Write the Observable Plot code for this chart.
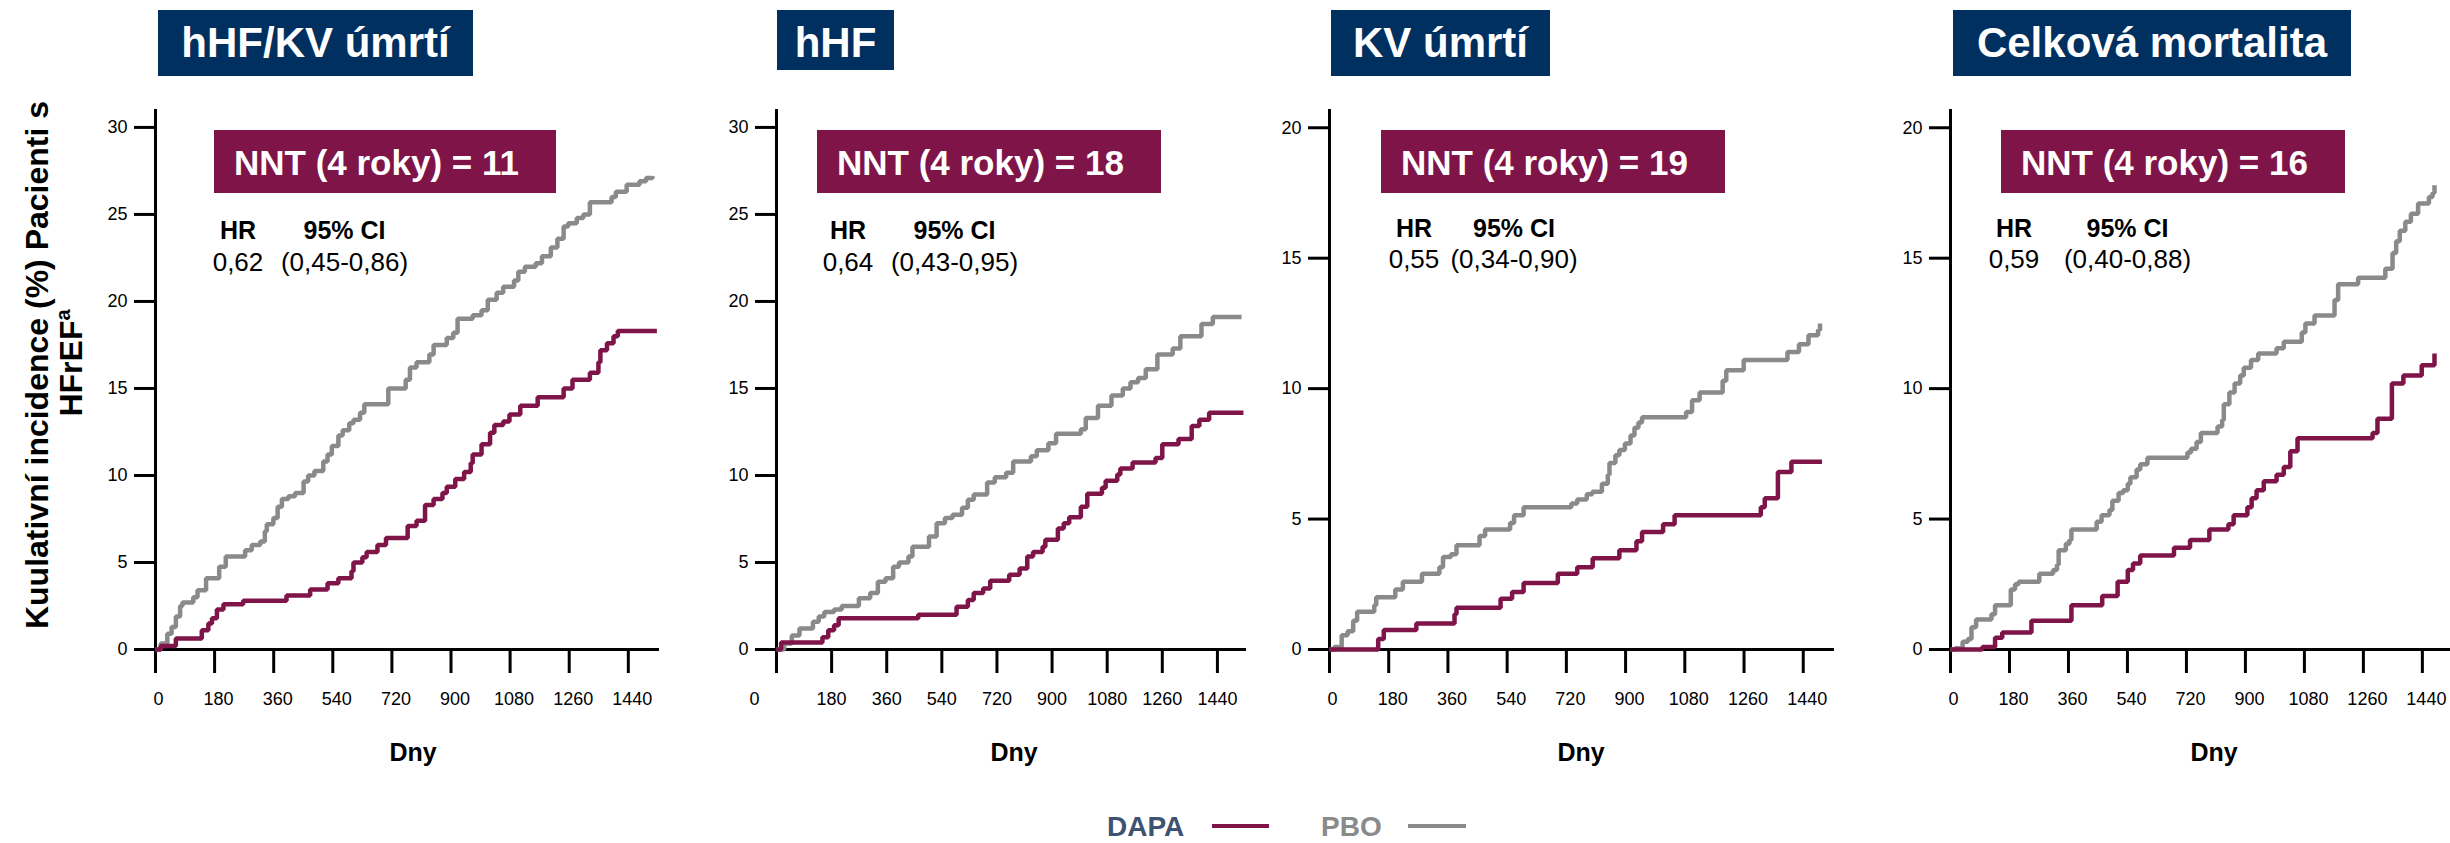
<!DOCTYPE html>
<html>
<head>
<meta charset="utf-8">
<script src="https://cdn.jsdelivr.net/npm/d3@7"></script>
<script src="https://cdn.jsdelivr.net/npm/@observablehq/plot@0.6"></script>
<style>
  html, body { margin: 0; padding: 0; background: #ffffff; overflow: hidden; }
  #root { position: relative; width: 2450px; height: 843px; overflow: hidden; font-family: "Liberation Sans", Arial, sans-serif; }
  #root svg { position: absolute; top: 0; }
</style>
</head>
<body>
<div id="root"></div>
<script>
// ---------- data ----------
const panelTitles = ["hHF/KV úmrtí", "hHF", "KV úmrtí", "Celková mortalita"];
const nntLabels = ["NNT (4 roky) = 11", "NNT (4 roky) = 18", "NNT (4 roky) = 19", "NNT (4 roky) = 16"];
const hrValues = ["0,62", "0,64", "0,55", "0,59"];
const ciValues = ["(0,45-0,86)", "(0,43-0,95)", "(0,34-0,90)", "(0,40-0,88)"];
const seriesNames = ["DAPA", "PBO"];
const xTicks = [0, 180, 360, 540, 720, 900, 1080, 1260, 1440];
const yTicks30 = [0, 5, 10, 15, 20, 25, 30];
const yTicks20 = [0, 5, 10, 15, 20];

const p1DapaDay = [0,16,62,141,161,172,187,207,267,399,471,524,557,597,603,630,643,676,702,768,795,821,847,874,887,913,940,960,966,993,1019,1032,1059,1078,1111,1164,1243,1270,1323,1349,1355,1375,1395,1408,1527];
const p1DapaPct = [0,0.2,0.63,1.1,1.5,1.8,2.3,2.6,2.8,3.1,3.45,3.8,4.1,4.5,5.0,5.3,5.6,6.0,6.4,7.1,7.4,8.3,8.65,9.0,9.35,9.8,10.2,10.7,11.2,11.8,12.45,12.9,13.1,13.5,14.0,14.5,15.0,15.5,15.9,16.5,17.2,17.6,18.0,18.3,18.3];
const p1PboDay = [0,16,36,49,62,75,82,115,128,154,194,214,273,293,319,333,339,359,372,385,405,425,451,465,484,511,524,537,557,570,590,603,623,636,709,762,775,795,834,847,887,907,920,966,993,1012,1039,1059,1092,1105,1125,1158,1177,1204,1224,1243,1257,1283,1303,1323,1389,1402,1435,1474,1494,1514];
const p1PboPct = [0,0.35,0.9,1.3,1.9,2.5,2.7,3.0,3.4,4.1,4.75,5.35,5.7,6.0,6.2,6.8,7.2,7.55,8.2,8.65,8.8,9.0,9.65,10.0,10.25,10.8,11.2,11.7,12.3,12.6,13.0,13.2,13.6,14.1,15.0,15.5,16.2,16.5,16.95,17.5,17.9,18.2,19.0,19.2,19.5,20.1,20.5,20.85,21.2,21.7,22.0,22.2,22.6,23.1,23.6,24.3,24.5,24.8,25.0,25.7,26.0,26.3,26.7,26.9,27.1,27.2];

const p2DapaDay = [0,15,150,169,188,203,463,588,625,644,675,698,760,794,819,838,869,878,919,938,956,994,1015,1063,1075,1113,1123,1163,1238,1260,1313,1356,1381,1413,1525];
const p2DapaPct = [0,0.4,0.7,1.1,1.4,1.8,2.0,2.45,2.85,3.25,3.5,3.95,4.3,4.65,5.35,5.6,5.9,6.3,6.95,7.25,7.6,8.2,8.95,9.3,9.7,10.05,10.4,10.75,11.0,11.8,12.1,12.85,13.2,13.6,13.6];
const p2PboDay = [0,25,50,75,119,138,156,188,213,269,306,331,356,381,400,431,444,498,523,550,575,606,625,644,688,713,750,773,831,850,888,913,994,1010,1050,1094,1131,1156,1181,1206,1244,1294,1319,1388,1425,1519];
const p2PboPct = [0,0.35,0.8,1.2,1.6,1.9,2.15,2.3,2.5,2.95,3.25,3.9,4.1,4.75,5.0,5.35,5.9,6.5,7.25,7.55,7.75,8.15,8.6,8.9,9.6,9.9,10.15,10.8,11.1,11.45,11.85,12.4,12.65,13.3,14.0,14.6,15.0,15.35,15.6,16.1,16.95,17.3,18.0,18.7,19.1,19.1];

const p3DapaDay = [0,148,165,264,380,386,520,555,590,694,753,800,881,933,950,1014,1049,1311,1323,1363,1404,1497];
const p3DapaPct = [0,0.4,0.75,1.0,1.35,1.6,1.95,2.2,2.55,2.9,3.15,3.5,3.8,4.15,4.5,4.8,5.15,5.45,5.8,6.8,7.2,7.2];
const p3PboDay = [0,14,37,55,72,84,136,142,200,223,281,334,345,369,386,456,473,549,561,590,735,753,782,799,828,846,851,869,881,898,915,927,939,950,1084,1102,1125,1195,1206,1259,1392,1427,1456,1485,1491];
const p3PboPct = [0,0.1,0.55,0.7,1.1,1.45,1.7,2.0,2.3,2.6,2.9,3.15,3.55,3.65,4.0,4.35,4.6,4.85,5.15,5.45,5.6,5.75,5.95,6.05,6.35,6.7,7.15,7.45,7.65,7.9,8.2,8.5,8.7,8.9,9.1,9.55,9.85,10.3,10.7,11.1,11.4,11.7,12.05,12.25,12.5];

const p4DapaDay = [0,97,136,158,247,369,463,510,541,557,579,682,731,790,848,864,906,919,934,956,995,1017,1037,1059,1288,1303,1347,1382,1438,1477];
const p4DapaPct = [0,0.1,0.45,0.65,1.1,1.7,2.05,2.6,3.05,3.3,3.6,3.9,4.2,4.6,4.8,5.15,5.45,5.8,6.1,6.45,6.7,7.0,7.6,8.1,8.3,8.85,10.2,10.5,10.9,11.35];
const p4PboDay = [0,14,37,53,64,78,125,136,184,197,208,271,313,325,330,352,363,369,446,461,485,494,513,527,541,549,568,579,601,723,734,751,764,815,829,834,851,867,884,895,917,939,995,1017,1072,1083,1111,1172,1183,1244,1327,1349,1360,1371,1388,1405,1427,1460,1471,1477];
const p4PboPct = [0,0.05,0.3,0.4,0.85,1.15,1.35,1.7,2.3,2.5,2.6,2.9,3.05,3.25,3.8,4.05,4.2,4.6,4.9,5.15,5.35,5.7,6.0,6.1,6.35,6.6,6.9,7.1,7.35,7.55,7.7,7.95,8.3,8.55,8.8,9.4,9.85,10.2,10.5,10.8,11.1,11.35,11.55,11.8,12.15,12.5,12.8,13.4,14.0,14.25,14.6,15.2,15.65,16.05,16.4,16.7,17.1,17.35,17.5,17.8];

// ---------- style / layout ----------
const FONT = '"Liberation Sans", Arial, sans-serif';
const MAROON = "#7f1449";
const GRAY = "#8a8a8a";
const NAVY = "#00305f";
const LEGEND_BLUE = "#3e5273";

const zip = (d, v) => d.map((day, i) => ({day, pct: v[i]}));
const series = [
  {dapa: zip(p1DapaDay, p1DapaPct), pbo: zip(p1PboDay, p1PboPct), yTicks: yTicks30, yMax: 31.03},
  {dapa: zip(p2DapaDay, p2DapaPct), pbo: zip(p2PboDay, p2PboPct), yTicks: yTicks30, yMax: 31.03},
  {dapa: zip(p3DapaDay, p3DapaPct), pbo: zip(p3PboDay, p3PboPct), yTicks: yTicks20, yMax: 20.7},
  {dapa: zip(p4DapaDay, p4DapaPct), pbo: zip(p4PboDay, p4PboPct), yTicks: yTicks20, yMax: 20.7}
];

const layout = [
  {left: 0,    width: 680, axis: 155,  end: 659,  dxLab: 4, dxZero: 3,
   title: [158, 10, 315, 66], nnt: [214, 130, 342, 63], hrC: 238, ciC: 344.5, hrY: 239, valY: 271, dny: 413},
  {left: 680,  width: 600, axis: 776,  end: 1246, dxLab: 0, dxZero: -22,
   title: [777, 10, 117, 60], nnt: [817, 130, 344, 63], hrC: 848, ciC: 954.5, hrY: 239, valY: 271, dny: 1014},
  {left: 1280, width: 600, axis: 1329, end: 1834, dxLab: 4, dxZero: 3,
   title: [1331, 10, 219, 66], nnt: [1381, 130, 344, 63], hrC: 1414, ciC: 1514, hrY: 237, valY: 268, dny: 1581},
  {left: 1880, width: 580, axis: 1950, end: 2453, dxLab: 4, dxZero: 3,
   title: [1953, 10, 398, 66], nnt: [2001, 130, 344, 63], hrC: 2014, ciC: 2127.5, hrY: 237, valY: 268, dny: 2214}
];

const root = document.getElementById("root");
const TOP = 109, BOTTOM = 649, H = 843;
const plainFmt = d => String(d);

series.forEach((s, i) => {
  const L = layout[i];
  const chart = Plot.plot({
    width: L.width,
    height: H,
    marginLeft: L.axis - L.left,
    marginRight: L.width - (L.end - L.left),
    marginTop: TOP,
    marginBottom: H - BOTTOM,
    x: {domain: [0, 1535], label: null},
    y: {domain: [0, s.yMax], label: null},
    style: {fontFamily: FONT, fontSize: "18px", color: "#000", background: "transparent", overflow: "visible"},
    marks: [
      Plot.axisY({ticks: s.yTicks, tickSize: 21, tickPadding: 7, strokeWidth: 3, fontSize: 18, tickFormat: plainFmt, label: null}),
      Plot.axisX({ticks: xTicks, tickSize: 24, tickFormat: () => "", strokeWidth: 3, label: null}),
      Plot.axisX({ticks: xTicks.filter(t => t > 0), tickSize: 0, tickPadding: 43, dx: L.dxLab, fontSize: 18, tickFormat: plainFmt, label: null}),
      Plot.axisX({ticks: [0], tickSize: 0, tickPadding: 43, dx: L.dxZero, fontSize: 18, tickFormat: plainFmt, label: null}),
      Plot.ruleX([0], {stroke: "#000", strokeWidth: 3}),
      Plot.ruleY([0], {stroke: "#000", strokeWidth: 3}),
      Plot.line(s.pbo, {x: "day", y: "pct", curve: "step-after", stroke: GRAY, strokeWidth: 4.5, strokeLinejoin: "miter", strokeLinecap: "butt"}),
      Plot.line(s.dapa, {x: "day", y: "pct", curve: "step-after", stroke: MAROON, strokeWidth: 4.5, strokeLinejoin: "miter", strokeLinecap: "butt"})
    ]
  });
  chart.style.left = L.left + "px";
  root.appendChild(chart);
});

// ---------- overlay: titles, NNT boxes, HR, axis titles, legend ----------
const ov = d3.select(root).append("svg")
  .attr("width", 2450).attr("height", H)
  .style("left", "0px").style("pointer-events", "none")
  .attr("font-family", FONT);

layout.forEach((L, i) => {
  const [tx, ty, tw, th] = L.title;
  ov.append("rect").attr("x", tx).attr("y", ty).attr("width", tw).attr("height", th).attr("fill", NAVY);
  ov.append("text").attr("x", tx + tw / 2).attr("y", 57).attr("text-anchor", "middle")
    .attr("font-size", 42).attr("font-weight", "bold").attr("fill", "#fff").text(panelTitles[i]);

  const [nx, ny, nw, nh] = L.nnt;
  ov.append("rect").attr("x", nx).attr("y", ny).attr("width", nw).attr("height", nh).attr("fill", MAROON);
  ov.append("text").attr("x", nx + 20).attr("y", 175)
    .attr("font-size", 35).attr("font-weight", "bold").attr("fill", "#fff").text(nntLabels[i]);

  ov.append("text").attr("x", L.hrC).attr("y", L.hrY).attr("text-anchor", "middle")
    .attr("font-size", 25).attr("font-weight", "bold").attr("fill", "#000").text("HR");
  ov.append("text").attr("x", L.ciC).attr("y", L.hrY).attr("text-anchor", "middle")
    .attr("font-size", 25).attr("font-weight", "bold").attr("fill", "#000").text("95% CI");
  ov.append("text").attr("x", L.hrC).attr("y", L.valY).attr("text-anchor", "middle")
    .attr("font-size", 26).attr("fill", "#000").text(hrValues[i]);
  ov.append("text").attr("x", L.ciC).attr("y", L.valY).attr("text-anchor", "middle")
    .attr("font-size", 26).attr("fill", "#000").text(ciValues[i]);

  ov.append("text").attr("x", L.dny).attr("y", 761).attr("text-anchor", "middle")
    .attr("font-size", 25).attr("font-weight", "bold").attr("fill", "#000").text("Dny");
});

// y axis title (two lines, rotated)
ov.append("text").attr("transform", "translate(48,365) rotate(-90)").attr("text-anchor", "middle")
  .attr("font-size", 32).attr("font-weight", "bold").attr("fill", "#000")
  .text("Kuulativní incidence (%) Pacienti s");
const l2 = ov.append("text").attr("transform", "translate(82,363) rotate(-90)").attr("text-anchor", "middle")
  .attr("font-size", 32).attr("font-weight", "bold").attr("fill", "#000");
l2.append("tspan").text("HFrEF");
l2.append("tspan").attr("font-size", 20).attr("dy", -12).text("a");

// legend
const legend = [
  {name: seriesNames[0], tx: 1107, lx0: 1212, lx1: 1269, textFill: LEGEND_BLUE, stroke: MAROON},
  {name: seriesNames[1], tx: 1321, lx0: 1408, lx1: 1466, textFill: GRAY, stroke: GRAY}
];
legend.forEach(g => {
  ov.append("text").attr("x", g.tx).attr("y", 836).attr("font-size", 28).attr("font-weight", "bold")
    .attr("fill", g.textFill).text(g.name);
  ov.append("line").attr("x1", g.lx0).attr("x2", g.lx1).attr("y1", 826).attr("y2", 826)
    .attr("stroke", g.stroke).attr("stroke-width", 4);
});
</script>
</body>
</html>
